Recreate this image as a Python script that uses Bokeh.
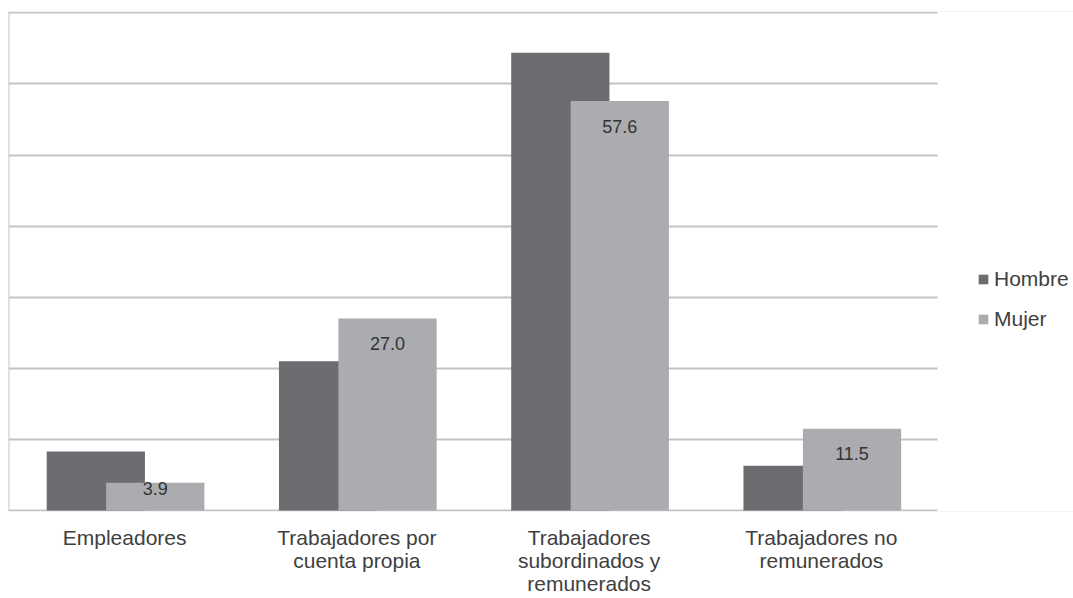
from bokeh.plotting import figure
from bokeh.models import (ColumnDataSource, Range1d, LabelSet, Legend, LegendItem,
                          SingleIntervalTicker, FixedTicker, Span, BoxAnnotation)
from bokeh.transform import dodge
from bokeh.core.properties import value
from bokeh.embed import file_html
from bokeh.resources import INLINE

# ---- data ----
categories = ["Empleadores", "Trabajadores por cuenta propia",
              "Trabajadores subordinados y remunerados", "Trabajadores no remunerados"]
tick_labels = ["Empleadores", "Trabajadores por\ncuenta propia",
               "Trabajadores\nsubordinados y\nremunerados", "Trabajadores no\nremunerados"]
hombre = [8.3, 21.0, 64.4, 6.3]
mujer = [3.9, 27.0, 57.6, 11.5]
series_names = ["Hombre", "Mujer"]

# ---- style ----
C_H = "#6c6d71"
C_M = "#abacaf"
TXT = "#404040"
GRID = "#c4c4c4"
FONT = "Liberation Sans"

W, H = 1073, 598
B_TOP, B_BOT, B_LEFT, B_RIGHT = 11, 86, 8, 0
N = len(categories)
CAT_PX = 232.25                    # width of one category slot in pixels
X_END = N + 136 / CAT_PX           # empty room on the right for the legend
Y_START, Y_END = -0.15, 70.2

p = figure(width=W, height=H, x_range=Range1d(0, X_END), y_range=Range1d(Y_START, Y_END),
           output_backend="svg", toolbar_location=None,
           min_border_left=B_LEFT, min_border_right=B_RIGHT, min_border_top=B_TOP,
           min_border_bottom=B_BOT)
p.outline_line_color = None
p.background_fill_color = "white"
p.border_fill_color = "white"

frame_h = H - B_TOP - B_BOT
px_per_unit = frame_h / (Y_END - Y_START)
off = [min(25.0, v * px_per_unit - 22.0) for v in mujer]

centers = [i + 0.5 for i in range(N)]
src = ColumnDataSource(dict(x=centers, hombre=hombre, mujer=mujer,
                            mtxt=[f"{v:.1f}" for v in mujer], off=[-o for o in off]))

rh = p.vbar(x=dodge("x", -0.124), top="hombre", width=0.423,
            source=src, fill_color=C_H, line_color=None)
rm = p.vbar(x=dodge("x", 0.132), top="mujer", width=0.423,
            source=src, fill_color=C_M, line_color=None)

# grid
p.yaxis.visible = False
p.ygrid.ticker = SingleIntervalTicker(interval=10)
p.ygrid.grid_line_color = GRID
p.ygrid.grid_line_width = 2
p.xgrid.grid_line_color = None
# blank out the grid beyond the last category (legend area)
p.add_layout(BoxAnnotation(left=N, fill_color="white", fill_alpha=1, line_color=None,
                           level="underlay"))
p.add_layout(Span(location=0, dimension="height", line_color=GRID, line_width=2))

# x axis: category labels
p.xaxis.ticker = FixedTicker(ticks=centers)
p.xaxis.major_label_overrides = {c: t for c, t in zip(centers, tick_labels)}
p.xaxis.axis_line_color = None
p.xaxis.major_tick_line_color = None
p.xaxis.minor_tick_line_color = None
p.xaxis.major_tick_out = 0
p.xaxis.major_label_standoff = 14
p.xaxis.major_label_text_font = FONT
p.xaxis.major_label_text_font_size = "21px"
p.xaxis.major_label_text_color = TXT
p.xaxis.major_label_text_line_height = 1.02

# value labels on Mujer bars
p.add_layout(LabelSet(x=dodge("x", 0.132), y="mujer", text="mtxt",
                      source=src, text_align="center", text_baseline="middle",
                      y_offset="off", text_font=value(FONT), text_font_size="18px",
                      text_color="#333333"))

legend = Legend(items=[LegendItem(label=series_names[0], renderers=[rh]),
                       LegendItem(label=series_names[1], renderers=[rm])],
                location=(969, 180), orientation="vertical",
                glyph_width=12, glyph_height=12, label_standoff=5, spacing=16,
                padding=0, margin=0, border_line_color=None, background_fill_alpha=0,
                label_text_font=FONT, label_text_font_size="21px", label_text_color=TXT)
p.add_layout(legend)

open("out.html", "w").write(file_html(p, INLINE))
